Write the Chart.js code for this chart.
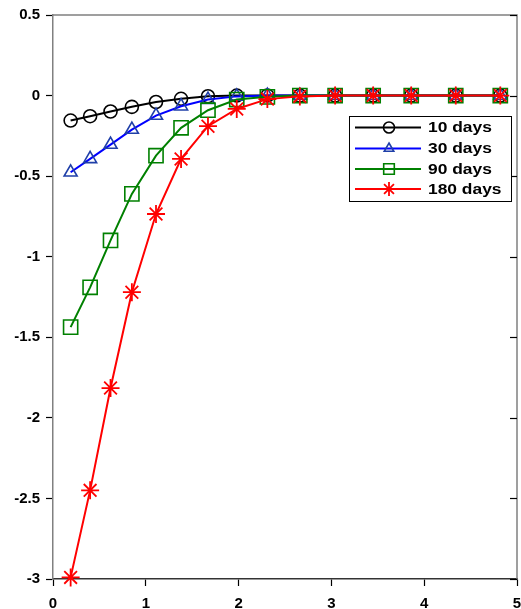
<!DOCTYPE html>
<html>
<head>
<meta charset="utf-8">
<script src="https://cdn.jsdelivr.net/npm/chart.js@4.4.0/dist/chart.umd.min.js"></script>
<style>
  html, body { margin: 0; padding: 0; background: #fff; }
  #wrap { width: 521px; height: 609px; }
</style>
</head>
<body>
<div id="wrap"><canvas id="chart"></canvas></div>
<script>
// sample positions along x
const xs = [0.19, 0.40, 0.62, 0.85, 1.11, 1.38, 1.67, 1.98, 2.31, 2.66, 3.04, 3.45, 3.86, 4.34, 4.82];

const days10  = [-0.155, -0.128, -0.099, -0.070, -0.040, -0.020, -0.004, 0, 0, 0, 0, 0, 0, 0, 0];
const days30  = [-0.476, -0.393, -0.304, -0.211, -0.124, -0.066, -0.025, -0.005, 0, 0, 0, 0, 0, 0, 0];
const days90  = [-1.437, -1.190, -0.899, -0.610, -0.373, -0.200, -0.091, -0.025, -0.008, 0, 0, 0, 0, 0, 0];
const days180 = [-2.990, -2.450, -1.815, -1.220, -0.735, -0.393, -0.190, -0.083, -0.022, -0.005, 0, 0, 0, 0, 0];

const seriesNames = ["10 days", "30 days", "90 days", "180 days"];
const xTicks = [0, 1, 2, 3, 4, 5];
const yTicks = [0.5, 0, -0.5, -1, -1.5, -2, -2.5, -3];

const FONT = "'Liberation Sans', Arial, sans-serif";

function pts(ys) {
  return ys.map((y, i) => ({ x: xs[i], y: y }));
}

function makeSet(label, ys, line, marker, style, radius, order) {
  return {
    label: label,
    data: pts(ys),
    borderColor: line,
    borderWidth: 2,
    pointStyle: style,
    pointRadius: radius,
    pointHoverRadius: radius,
    pointBorderColor: marker,
    pointBackgroundColor: "rgba(0,0,0,0)",
    pointBorderWidth: style === "star" ? 1.8 : 1.6,
    fill: false,
    tension: 0,
    clip: false,
    order: order
  };
}

const datasets = [
  makeSet(seriesNames[0], days10, "#000000", "#000000", "circle", 6.5, 3),
  makeSet(seriesNames[1], days30, "#0000ff", "#1f3fa8", "triangle", 7.5, 2),
  makeSet(seriesNames[2], days90, "#008000", "#008000", "rect", 10, 1),
  makeSet(seriesNames[3], days180, "#ff0000", "#ff0000", "star", 9, 0)
];

function drawMarker(ctx, style, r, x, y) {
  if (style === "circle") {
    ctx.arc(x, y, r, 0, Math.PI * 2);
  } else if (style === "triangle") {
    for (let k = 0; k < 3; k++) {
      const t = k * 2 * Math.PI / 3;
      const px = x + Math.sin(t) * r, py = y - Math.cos(t) * r;
      if (k === 0) ctx.moveTo(px, py); else ctx.lineTo(px, py);
    }
    ctx.closePath();
  } else if (style === "rect") {
    const s = r * Math.SQRT1_2;
    ctx.rect(x - s, y - s, 2 * s, 2 * s);
  } else {
    for (let k = 0; k < 4; k++) {
      const t = k * Math.PI / 4;
      ctx.moveTo(x - Math.cos(t) * r, y - Math.sin(t) * r);
      ctx.lineTo(x + Math.cos(t) * r, y + Math.sin(t) * r);
    }
  }
}

// top/right frame with inward ticks on the right, plus the boxed legend
const framePlugin = {
  id: "frame",
  afterDraw(chart) {
    const ctx = chart.ctx;
    const a = chart.chartArea;
    const ys = chart.scales.y;
    ctx.save();
    ctx.strokeStyle = "#808080";
    ctx.lineWidth = 1.5;
    ctx.beginPath();
    ctx.moveTo(a.left, a.top);
    ctx.lineTo(a.right, a.top);
    ctx.lineTo(a.right, a.bottom);
    ctx.stroke();
    ctx.strokeStyle = "#000";
    ctx.lineWidth = 1.2;
    yTicks.forEach(v => {
      const py = Math.round(ys.getPixelForValue(v)) + 0.5;
      ctx.beginPath();
      ctx.moveTo(a.right - 7, py);
      ctx.lineTo(a.right, py);
      ctx.stroke();
    });

    // legend
    const bx = 349, by = 116, bw = 162, bh = 85;
    ctx.fillStyle = "#fff";
    ctx.fillRect(bx, by, bw, bh);
    ctx.strokeStyle = "#000";
    ctx.lineWidth = 1;
    ctx.strokeRect(bx + 0.5, by + 0.5, bw, bh);
    const rowY = [127.5, 148.5, 169, 189];
    chart.data.datasets.forEach((ds, i) => {
      const y = rowY[i];
      ctx.strokeStyle = ds.borderColor;
      ctx.lineWidth = 2;
      ctx.beginPath();
      ctx.moveTo(355, y);
      ctx.lineTo(421, y);
      ctx.stroke();
      const r = ds.pointStyle === "rect" ? 7.5 : (ds.pointStyle === "star" ? 7 : 5.5);
      ctx.save();
      ctx.strokeStyle = ds.pointBorderColor;
      ctx.lineWidth = ds.pointBorderWidth;
      ctx.beginPath();
      drawMarker(ctx, ds.pointStyle, r, 389, y);
      ctx.stroke();
      ctx.restore();
      ctx.save();
      ctx.fillStyle = "#000";
      ctx.font = "bold 15px " + FONT;
      ctx.textBaseline = "middle";
      ctx.translate(428, y + 0.5);
      ctx.scale(1.16, 1);
      ctx.fillText(ds.label, 0, 0);
      ctx.restore();
    });
    ctx.restore();
  }
};

new Chart(document.getElementById("chart"), {
  type: "line",
  data: { datasets: datasets },
  plugins: [framePlugin],
  options: {
    responsive: true,
    maintainAspectRatio: false,
    animation: false,
    events: [],
    layout: { autoPadding: false, padding: { top: 15, right: 4, left: 0, bottom: 0 } },
    plugins: {
      legend: { display: false },
      tooltip: { enabled: false }
    },
    scales: {
      x: {
        type: "linear",
        min: 0,
        max: 5,
        afterBuildTicks: s => { s.ticks = xTicks.map(v => ({ value: v })); },
        afterFit: s => { s.height = 30; s.paddingRight = 0; s.paddingLeft = 0; },
        border: { color: "#333", width: 1.5 },
        grid: { drawOnChartArea: false, tickLength: 7, tickColor: "#000", tickWidth: 1.2 },
        ticks: {
          color: "#000",
          padding: 9,
          maxRotation: 0,
          font: { family: FONT, size: 15, weight: "bold" },
          callback: v => String(v)
        }
      },
      y: {
        type: "linear",
        min: -3,
        max: 0.5,
        afterBuildTicks: s => { s.ticks = yTicks.map(v => ({ value: v })); },
        afterFit: s => { s.width = 53; s.paddingTop = 0; s.paddingBottom = 0; },
        border: { color: "#808080", width: 1.5 },
        grid: { drawOnChartArea: false, tickLength: 7, tickColor: "#000", tickWidth: 1.2 },
        ticks: {
          color: "#000",
          padding: 6,
          font: { family: FONT, size: 15, weight: "bold" },
          callback: v => String(+Number(v).toFixed(1))
        }
      }
    }
  }
});
</script>
</body>
</html>
